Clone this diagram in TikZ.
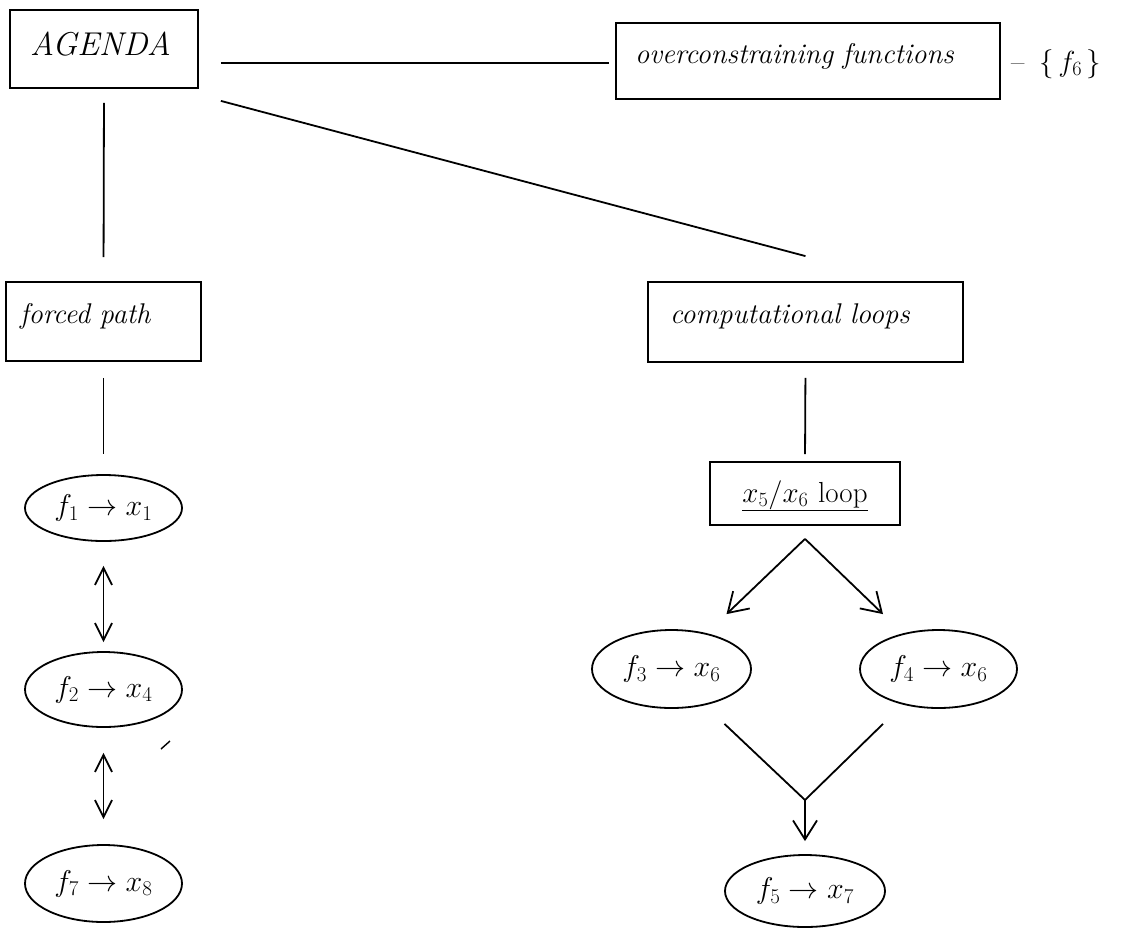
\RequirePackage{fix-cm}
\documentclass[tikz,border=0pt]{standalone}
\usetikzlibrary{arrows.meta,shapes.geometric,calc}
\begin{document}
\begin{tikzpicture}[x=1pt,y=-1pt,
  txt/.style={font=\fontsize{29}{34}\selectfont},
  itx/.style={font=\fontsize{28.5}{34}\selectfont\itshape},
  box/.style={draw, line width=1.8pt, rectangle, inner ysep=0pt, align=left},
  oval/.style={draw, line width=1.8pt, ellipse, inner sep=0pt, font=\fontsize{30}{36}\selectfont},
  conn/.style={line width=1.8pt},
  arr/.style={line width=1.8pt, -{Straight Barb[length=19pt,width=24pt]}},
  darr/.style={line width=1.8pt, {Straight Barb[length=17pt,width=17pt]}-{Straight Barb[length=17pt,width=17pt]}}]
\useasboundingbox (0,0) rectangle (1137,930);

% boxes
\node[box, inner xsep=20pt, text width=148pt, text height=45pt, text depth=33pt,
      font=\fontsize{33}{38}\selectfont\itshape] (agenda) at (104,49) {AGENDA};
\node[box, itx, inner xsep=19pt, text width=346pt, text height=40pt, text depth=36pt] (over) at (808,61) {overconstraining functions};
\node[box, itx, inner xsep=14pt, text width=167pt, text height=41pt, text depth=38pt] (forced) at (103.5,321.5) {forced path};
\node[box, itx, inner xsep=22pt, text width=271pt, text height=41pt, text depth=39pt] (comp) at (805.5,322) {computational loops};
\node[box, txt, align=center, inner xsep=5pt, text width=180pt, text height=40pt, text depth=23pt] (xloop) at (805,493.5) {\underline{$x_5/x_6$ loop}};

\node[txt, anchor=base west, inner sep=0pt] (f6) at (1011,71) {--\hspace{0.5em}$\{\,f_6\,\}$};

% ellipses
\node[oval, minimum width=157pt, minimum height=66pt] (f1) at (103.5,508) {$f_1\to x_1$};
\node[oval, minimum width=157pt, minimum height=75pt] (f2) at (103.5,689.5) {$f_2\to x_4$};
\node[oval, minimum width=157pt, minimum height=77pt] (f7) at (103.5,883.5) {$f_7\to x_8$};
\node[oval, minimum width=159pt, minimum height=78pt] (f3) at (671.5,669) {$f_3\to x_6$};
\node[oval, minimum width=157pt, minimum height=78pt] (f4) at (938.5,669) {$f_4\to x_6$};
\node[oval, minimum width=160pt, minimum height=72pt] (f5) at (805,891) {$f_5\to x_7$};

% connectors
\draw[conn] ($(agenda.east)+(22,14)$) -- ($(over.west)+(-6,2)$);
\draw[conn] ($(agenda.south east)+(22,12)$) -- ($(comp.north)+(0,-25)$);
\draw[conn, shorten <=14pt, shorten >=24pt] (agenda.south) -- (forced.north);
\draw[conn, shorten <=16pt, shorten >=20pt] (forced.south) -- (f1.north);
\draw[darr, shorten <=24pt, shorten >=9pt] (f1.south) -- (f2.north);
\draw[darr, shorten <=25pt, shorten >=25pt] (f2.south) -- (f7.north);
\draw[conn, shorten <=15pt, shorten >=7pt] (comp.south) -- (xloop.north);
\coordinate (split) at ($(xloop.south)+(0,13)$);
\draw[arr] (split) -- ($(f3.north)+(55,-15)$);
\draw[arr] (split) -- ($(f4.north)+(-55.5,-15)$);
\coordinate (join) at (805,800);
\draw[conn] ($(f3.south)+(53,15)$) -- (join) -- ($(f4.south)+(-55.5,15)$);
\draw[arr, shorten >=13pt] (join) -- (f5.north);

% small stray mark
\coordinate (m1) at (161,749);
\coordinate (m2) at (170,741);
\draw[line width=1.4pt] (m1) -- (m2);
\end{tikzpicture}
\end{document}
